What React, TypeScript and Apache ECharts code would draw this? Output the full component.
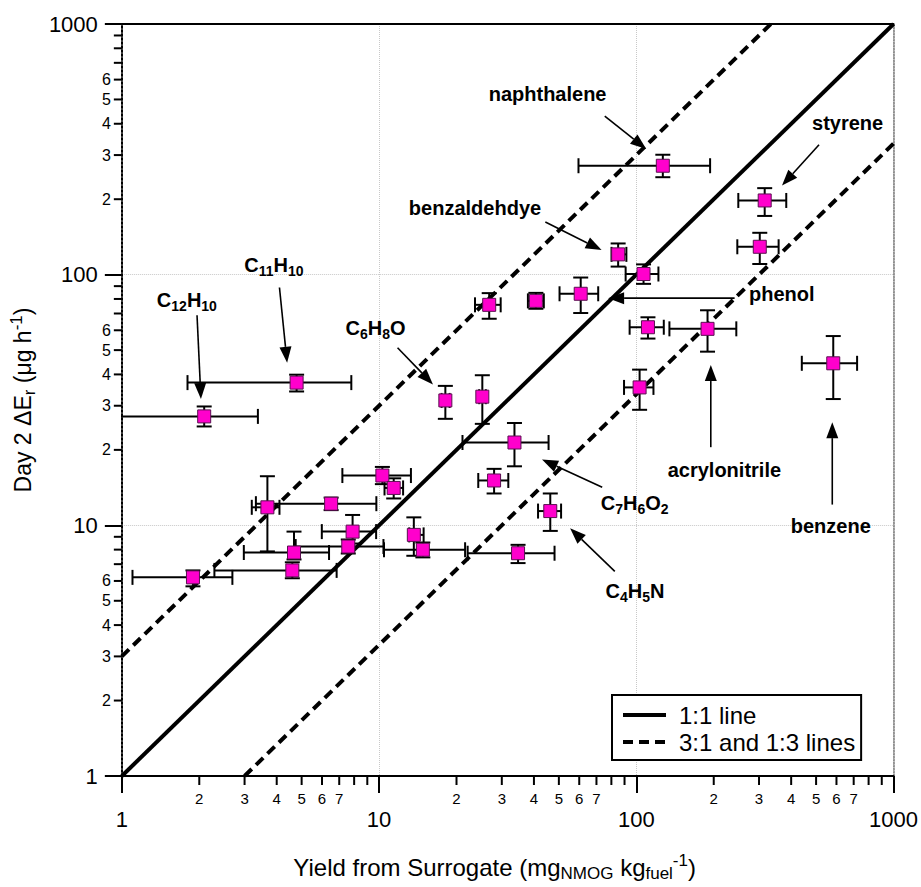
import React, { useEffect, useRef } from 'react';
import * as echarts from 'echarts';

const FONT = '"Liberation Sans", Arial, Helvetica, sans-serif';

// Measured compounds (yield from surrogate vs Day 2 ΔEr)
const pointX = [2.09, 4.78, 18.1, 25.2, 33.6, 28.0, 46.3, 34.7, 13.65, 14.8, 3.68, 6.51, 10.3, 11.4, 7.89, 4.67, 4.60, 1.89, 7.59, 126.8, 85.0, 106.7, 60.8, 40.7, 26.8, 111, 315.6, 302, 189.2, 583, 103];
const pointY = [27.2, 37.1, 31.5, 32.6, 21.4, 15.1, 11.4, 7.74, 9.16, 7.99, 11.8, 12.2, 15.8, 14.1, 9.44, 7.79, 6.61, 6.20, 8.23, 272, 120.5, 100.6, 83.9, 78.6, 75.8, 61.7, 197.7, 129.2, 60.8, 44.3, 35.5];
const xLow = [0.8, 1.80, 17.5, 24.5, 21.1, 24.3, 41.5, 22.1, 13.1, 10.45, 3.20, 3.32, 7.2, 10.5, 5.99, 2.98, 2.29, 1.10, 4.74, 59.6, 80.1, 90.9, 50.3, 37.9, 23.6, 94.2, 249.2, 247, 134.5, 440, 89.6];
const xHigh = [3.38, 7.80, 18.8, 26.0, 45.6, 31.8, 51.0, 48.1, 14.9, 21.6, 4.10, 9.76, 13.3, 12.4, 9.74, 6.39, 6.84, 2.69, 10.4, 193.6, 91.5, 121.9, 71.1, 43.7, 29.7, 127.9, 382.8, 357.5, 244.8, 721.7, 116.6];
const yLow = [24.8, 34.2, 26.6, 25.4, 17.2, 13.4, 9.5, 7.07, 7.56, 7.45, 7.87, 11.5, 14.6, 12.8, 8.46, 7.31, 6.15, 5.71, 7.72, 244.8, 107.7, 91.9, 70.3, 73.1, 66.7, 55.6, 171.5, 110.3, 49.3, 31.9, 28.9];
const yHigh = [29.8, 39.9, 36.0, 39.7, 25.6, 16.8, 13.4, 8.36, 10.76, 8.54, 15.7, 12.9, 17.1, 15.4, 11.0, 9.44, 7.12, 6.61, 8.78, 300.9, 133.2, 109.9, 97.4, 84.6, 84.4, 67.6, 221.4, 146.9, 72.1, 56.9, 41.8];

// Reference lines
const oneToOneX = [1, 1000];
const oneToOneY = [1, 1000];
const threeToOneX = [1, 333.33];
const threeToOneY = [3, 1000];
const oneToThreeX = [3, 1000];
const oneToThreeY = [1, 333.33];

// Annotations
const labelText = [
  'naphthalene', 'styrene', 'benzaldehdye', 'phenol', 'acrylonitrile', 'benzene',
  '{b|C}{s|7}{b|H}{s|6}{b|O}{s|2}', '{b|C}{s|4}{b|H}{s|5}{b|N}', '{b|C}{s|6}{b|H}{s|8}{b|O}',
  '{b|C}{s|11}{b|H}{s|10}', '{b|C}{s|12}{b|H}{s|10}',
];
const labelX = [45.2, 663, 23.6, 367.9, 220, 570.2, 98.5, 98.9, 9.69, 3.90, 1.79];
const labelY = [523.6, 404.4, 185, 83.9, 16.67, 9.97, 12.3, 5.46, 61.3, 109.2, 79.4];
const arrowTailX = [75.4, 513.3, 44.3, 241.1, 194.8, 577.9, 73.7, 82.5, 11.8, 4.10, 1.96];
const arrowTailY = [429.5, 329.6, 162.3, 80.6, 20.5, 12.1, 14.2, 6.55, 51.1, 88.9, 68.9];
const arrowHeadX = [109.3, 368.5, 73.3, 77.7, 194.8, 577.9, 43.0, 55.3, 16.2, 4.39, 2.03];
const arrowHeadY = [316.9, 226.7, 125.3, 80.6, 43.6, 25.8, 18.3, 9.73, 36.5, 44.5, 31.9];

// Axis ticks
const majorTicks = [1, 10, 100, 1000];
const minorDigits = [2, 3, 4, 5, 6, 7, 8, 9];
const xMinorLabelled = [2, 3, 4, 5, 6, 7];
const yMinorLabelled = [2, 3, 4, 5, 6];

export default function App() {
  const ref = useRef<HTMLDivElement>(null);
  useEffect(() => {
    if (!ref.current) return;
    const chart = echarts.init(ref.current, undefined, { renderer: 'svg' });

    const minorTicks: number[] = [];
    majorTicks.slice(0, 3).forEach((d) => minorDigits.forEach((m) => minorTicks.push(m * d)));
    const digitOf = (v: number) => Math.round(v / Math.pow(10, Math.floor(Math.log10(v) + 1e-9)));

    const errData = pointX.map((x, i) => [x, pointY[i], xLow[i], xHigh[i], yLow[i], yHigh[i]]);
    const arrowData = arrowTailX.map((x, i) => [x, arrowTailY[i], arrowHeadX[i], arrowHeadY[i]]);
    const labelData = labelX.map((x, i) => [x, labelY[i], i]);

    const boldRich = {
      b: { fontSize: 20, fontWeight: 'bold', fontFamily: FONT, lineHeight: 26, fill: '#000' },
      s: { fontSize: 14, fontWeight: 'bold', fontFamily: FONT, lineHeight: 14, verticalAlign: 'bottom', fill: '#000' },
    };
    const titleRich = {
      sub: { fontSize: 17, fontFamily: FONT, lineHeight: 17, verticalAlign: 'bottom', color: '#000' },
      sup: { fontSize: 17, fontFamily: FONT, lineHeight: 17, verticalAlign: 'top', color: '#000' },
    };

    const option: any = {
      animation: false,
      backgroundColor: '#fff',
      grid: { left: 117, top: 24, right: 27, bottom: 106 },
      legend: {
        data: ['1:1 line', '3:1 and 1:3 lines'],
        orient: 'vertical',
        left: 612,
        top: 695,
        padding: [8, 6, 6, 9],
        itemWidth: 43,
        itemHeight: 14,
        itemGap: 3,
        borderColor: '#000',
        borderWidth: 2,
        borderRadius: 0,
        backgroundColor: '#fff',
        itemStyle: { opacity: 0 },
        lineStyle: { width: 4 },
        textStyle: { fontSize: 24, fontFamily: FONT, color: '#000', padding: [0, 0, 0, 8] },
      },
      xAxis: [
        {
          type: 'log', logBase: 10, min: 1, max: 1000,
          name: 'Yield from Surrogate (mg{sub|NMOG} kg{sub|fuel}{sup|-1})',
          nameLocation: 'middle', nameGap: 76,
          nameTextStyle: {
            fontSize: 24, fontFamily: FONT, color: '#000', lineHeight: 30,
            padding: [0, 26, 0, 0],
            rich: titleRich,
          },
          axisLine: { show: true, lineStyle: { color: '#000', width: 2 } },
          axisTick: { show: true, length: 17, lineStyle: { color: '#000', width: 2 } },
          axisLabel: { fontSize: 22, fontFamily: FONT, color: '#000', margin: 32, formatter: (v: number) => String(Math.round(v)) },
          splitLine: { show: true, lineStyle: { type: 'dotted', color: '#c8c8c8', width: 1 } },
        },
        {
          type: 'log', logBase: 10, min: 1, max: 1000, position: 'top',
          axisLine: { show: true, lineStyle: { color: '#000', width: 2 } },
          axisTick: { show: false }, axisLabel: { show: false }, splitLine: { show: false },
        },
      ],
      yAxis: [
        {
          type: 'log', logBase: 10, min: 1, max: 1000,
          name: 'Day 2 ΔE{sub|r} (μg h{sup|-1})',
          nameLocation: 'middle', nameGap: 72,
          nameTextStyle: {
            fontSize: 23, fontFamily: FONT, color: '#000', lineHeight: 30,
            rich: titleRich,
          },
          axisLine: { show: true, lineStyle: { color: '#000', width: 2, type: 'dotted' } },
          axisTick: { show: true, length: 17, lineStyle: { color: '#000', width: 2 } },
          axisLabel: { fontSize: 22, fontFamily: FONT, color: '#000', margin: 24, formatter: (v: number) => String(Math.round(v)) },
          splitLine: { show: true, lineStyle: { type: 'dotted', color: '#c8c8c8', width: 1 } },
        },
        {
          type: 'log', logBase: 10, min: 1, max: 1000, position: 'right',
          axisLine: { show: true, lineStyle: { color: '#777', width: 1.5, type: 'dotted' } },
          axisTick: { show: false }, axisLabel: { show: false }, splitLine: { show: false },
        },
      ],
      series: [
        {
          name: '1:1 line', type: 'line', symbol: 'none', z: 2,
          data: oneToOneX.map((x, i) => [x, oneToOneY[i]]),
          lineStyle: { color: '#000', width: 4, type: 'solid' },
          itemStyle: { color: '#000' },
        },
        {
          name: '3:1 and 1:3 lines', type: 'line', symbol: 'none', z: 2,
          data: threeToOneX.map((x, i) => [x, threeToOneY[i]]),
          lineStyle: { color: '#000', width: 4, type: [10, 6] },
          itemStyle: { color: '#000' },
        },
        {
          name: '3:1 and 1:3 lines', type: 'line', symbol: 'none', z: 2,
          data: oneToThreeX.map((x, i) => [x, oneToThreeY[i]]),
          lineStyle: { color: '#000', width: 4, type: [10, 6] },
          itemStyle: { color: '#000' },
        },
        {
          type: 'custom', z: 3, clip: true,
          data: errData,
          encode: { x: [0, 2, 3], y: [1, 4, 5] },
          renderItem: (params: any, api: any) => {
            const x = api.value(0), y = api.value(1);
            const l = api.coord([api.value(2), y]);
            const r = api.coord([api.value(3), y]);
            const t = api.coord([x, api.value(5)]);
            const b = api.coord([x, api.value(4)]);
            const c = api.coord([x, y]);
            const cap = 7.5;
            const st = { stroke: '#000', lineWidth: 2 };
            return {
              type: 'group',
              children: [
                { type: 'line', shape: { x1: l[0], y1: c[1], x2: r[0], y2: c[1] }, style: st },
                { type: 'line', shape: { x1: c[0], y1: t[1], x2: c[0], y2: b[1] }, style: st },
                { type: 'line', shape: { x1: l[0], y1: c[1] - cap, x2: l[0], y2: c[1] + cap }, style: st },
                { type: 'line', shape: { x1: r[0], y1: c[1] - cap, x2: r[0], y2: c[1] + cap }, style: st },
                { type: 'line', shape: { x1: c[0] - cap, y1: t[1], x2: c[0] + cap, y2: t[1] }, style: st },
                { type: 'line', shape: { x1: c[0] - cap, y1: b[1], x2: c[0] + cap, y2: b[1] }, style: st },
              ],
            };
          },
        },
        {
          type: 'scatter', z: 4, symbol: 'rect', symbolSize: 13,
          data: pointX.map((x, i) => [x, pointY[i]]),
          itemStyle: { color: '#ff00cc', borderColor: '#5a1050', borderWidth: 1, opacity: 1 },
        },
        {
          type: 'custom', z: 5,
          data: arrowData,
          encode: { x: [0, 2], y: [1, 3] },
          renderItem: (params: any, api: any) => {
            const a = api.coord([api.value(0), api.value(1)]);
            const b = api.coord([api.value(2), api.value(3)]);
            const dx = b[0] - a[0], dy = b[1] - a[1];
            const L = Math.hypot(dx, dy) || 1;
            const ux = dx / L, uy = dy / L;
            const hl = 16, hw = 6;
            const bx = b[0] - ux * hl, by = b[1] - uy * hl;
            return {
              type: 'group',
              children: [
                { type: 'line', shape: { x1: a[0], y1: a[1], x2: bx, y2: by }, style: { stroke: '#000', lineWidth: 1.6 } },
                {
                  type: 'polygon',
                  shape: { points: [[b[0], b[1]], [bx - uy * hw, by + ux * hw], [bx + uy * hw, by - ux * hw]] },
                  style: { fill: '#000' },
                },
              ],
            };
          },
        },
        {
          type: 'custom', z: 5,
          data: labelData,
          encode: { x: 0, y: 1 },
          renderItem: (params: any, api: any) => {
            const p = api.coord([api.value(0), api.value(1)]);
            const idx = api.value(2);
            const txt = labelText[idx];
            const rich = txt.indexOf('{') === 0;
            return {
              type: 'text', x: p[0], y: p[1],
              style: rich
                ? { text: txt, rich: boldRich, align: 'center', verticalAlign: 'middle' }
                : { text: txt, fontSize: 20, fontWeight: 'bold', fontFamily: FONT, fill: '#000', align: 'center', verticalAlign: 'middle' },
            };
          },
        },
        {
          type: 'custom', z: 5,
          data: minorTicks.map((v) => [v, 1]),
          encode: { x: 0, y: 1 },
          renderItem: (params: any, api: any) => {
            const v = api.value(0);
            const p = api.coord([v, 1]);
            const d = digitOf(v);
            const children: any[] = [
              { type: 'line', shape: { x1: p[0], y1: p[1], x2: p[0], y2: p[1] + 9 }, style: { stroke: '#000', lineWidth: 2 } },
            ];
            if (xMinorLabelled.indexOf(d) >= 0) {
              children.push({ type: 'text', x: p[0], y: p[1] + 22, style: { text: String(d), fontSize: 15, fontFamily: FONT, fill: '#000', align: 'center', verticalAlign: 'middle' } });
            }
            return { type: 'group', children };
          },
        },
        {
          type: 'custom', z: 5,
          data: minorTicks.map((v) => [1, v]),
          encode: { x: 0, y: 1 },
          renderItem: (params: any, api: any) => {
            const v = api.value(1);
            const p = api.coord([1, v]);
            const d = digitOf(v);
            const children: any[] = [
              { type: 'line', shape: { x1: p[0] - 8, y1: p[1], x2: p[0], y2: p[1] }, style: { stroke: '#000', lineWidth: 2 } },
            ];
            if (yMinorLabelled.indexOf(d) >= 0) {
              children.push({ type: 'text', x: p[0] - 11, y: p[1], style: { text: String(d), fontSize: 16, fontFamily: FONT, fill: '#000', align: 'right', verticalAlign: 'middle' } });
            }
            return { type: 'group', children };
          },
        },
      ],
    };
    chart.setOption(option);
    return () => chart.dispose();
  }, []);
  return <div ref={ref} style={{ position: 'absolute', left: 0, top: 0, width: 921, height: 887 }} />;
}
